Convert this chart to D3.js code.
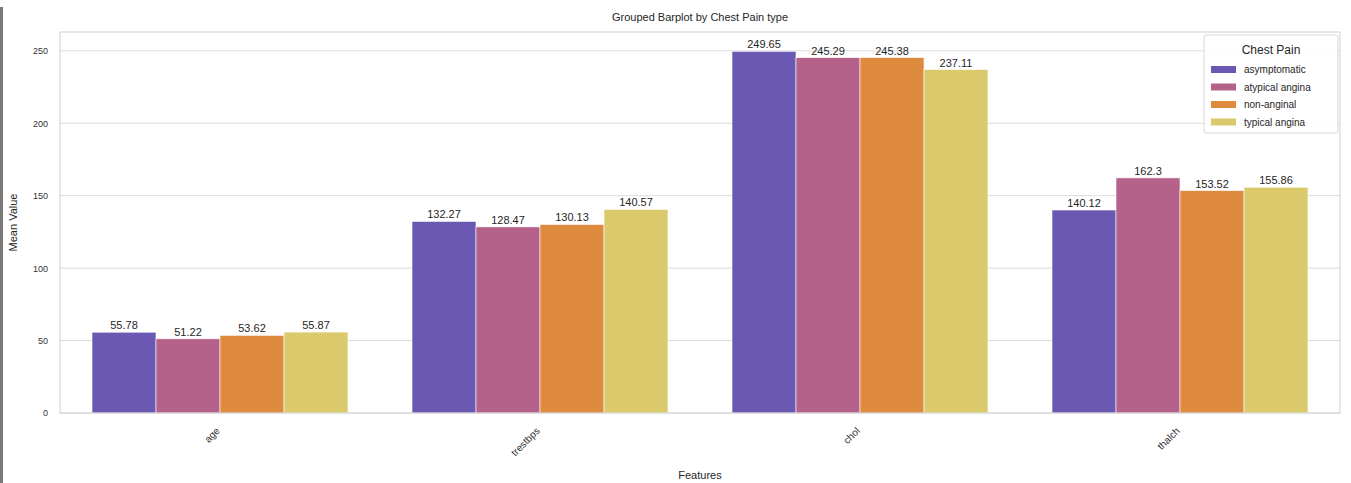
<!DOCTYPE html>
<html>
<head>
<meta charset="utf-8">
<script src="https://cdn.jsdelivr.net/npm/d3@7"></script>
<style>
  body { margin: 0; background: #fff; }
  svg { display: block; font-family: "Liberation Sans", Arial, sans-serif; }
</style>
</head>
<body>
<svg id="chart" width="1351" height="483"></svg>
<script>
const features = ["age", "trestbps", "chol", "thalch"];
const chestPainTypes = ["asymptomatic", "atypical angina", "non-anginal", "typical angina"];
const asymptomatic = [55.78, 132.27, 249.65, 140.12];
const atypicalAngina = [51.22, 128.47, 245.29, 162.3];
const nonAnginal = [53.62, 130.13, 245.38, 153.52];
const typicalAngina = [55.87, 140.57, 237.11, 155.86];
const seriesValues = [asymptomatic, atypicalAngina, nonAnginal, typicalAngina];
const yTicks = [0, 50, 100, 150, 200, 250];
const colors = ["#6a58b2", "#b5628a", "#df8b3e", "#dbca6b"];

const svg = d3.select("#chart");
const W = 1351, H = 483;
const margin = { left: 60, right: 11, top: 32, bottom: 70 };
const plotL = margin.left, plotR = W - margin.right, plotT = margin.top, plotB = H - margin.bottom;

// left gray strip
svg.append("rect").attr("x", 0).attr("y", 7).attr("width", 3).attr("height", H - 7).attr("fill", "#7a7a7a");

const x0 = d3.scaleBand().domain(features).range([plotL, plotR]).paddingInner(0).paddingOuter(0);
const x1 = d3.scaleBand().domain(chestPainTypes).range([0, x0.bandwidth() * 0.8]);
const y = d3.scaleLinear().domain([0, 263]).range([plotB, plotT]);

// grid
svg.append("g").selectAll("line").data(yTicks).join("line")
  .attr("x1", plotL).attr("x2", plotR)
  .attr("y1", d => y(d)).attr("y2", d => y(d))
  .attr("stroke", "#dcdcdc").attr("stroke-width", 1);

// y axis labels
const yAxis = d3.axisLeft(y).tickValues(yTicks).tickSize(0).tickPadding(12);
const gy = svg.append("g").attr("transform", `translate(${plotL},0)`).call(yAxis);
gy.select(".domain").remove();
gy.selectAll("text").attr("font-size", 9).attr("fill", "#333").attr("font-family", "Liberation Sans, Arial, sans-serif");

// bars
const groups = svg.append("g").selectAll("g").data(features).join("g")
  .attr("transform", f => `translate(${x0(f) + x0.bandwidth() * 0.1},0)`);

groups.each(function(f, fi) {
  const g = d3.select(this);
  chestPainTypes.forEach((c, ci) => {
    const v = seriesValues[ci][fi];
    g.append("rect")
      .attr("x", x1(c)).attr("width", x1.bandwidth())
      .attr("y", y(v)).attr("height", y(0) - y(v))
      .attr("fill", colors[ci]).attr("stroke", "#fff").attr("stroke-width", 0.6);
    g.append("text")
      .attr("x", x1(c) + x1.bandwidth() / 2).attr("y", y(v) - 3)
      .attr("text-anchor", "middle").attr("font-size", 11).attr("fill", "#262626")
      .text(String(v));
  });
});

// frame
svg.append("rect").attr("x", plotL).attr("y", plotT).attr("width", plotR - plotL).attr("height", plotB - plotT)
  .attr("fill", "none").attr("stroke", "#d0d0d0").attr("stroke-width", 1);

// x axis labels
const xAxis = d3.axisBottom(x0).tickSize(0).tickPadding(0);
const gx = svg.append("g").attr("transform", `translate(0,${plotB})`).call(xAxis);
gx.select(".domain").remove();
gx.selectAll("text")
  .attr("font-size", 10).attr("fill", "#333").attr("font-family", "Liberation Sans, Arial, sans-serif")
  .attr("text-anchor", "end")
  .attr("x", 0).attr("y", 0).attr("dy", "0.35em")
  .attr("transform", "translate(-2,16) rotate(-45)");

// titles
svg.append("text").attr("x", (plotL + plotR) / 2).attr("y", 21).attr("text-anchor", "middle")
  .attr("font-size", 11).attr("fill", "#262626").text("Grouped Barplot by Chest Pain type");
svg.append("text").attr("x", (plotL + plotR) / 2).attr("y", 479).attr("text-anchor", "middle")
  .attr("font-size", 11).attr("fill", "#262626").text("Features");
svg.append("text").attr("transform", `translate(17,${(plotT + plotB) / 2}) rotate(-90)`).attr("text-anchor", "middle")
  .attr("font-size", 11).attr("fill", "#262626").text("Mean Value");

// legend
const lg = svg.append("g").attr("transform", "translate(1204,35)");
lg.append("rect").attr("x", 0).attr("y", 0).attr("width", 134).attr("height", 98)
  .attr("fill", "#fff").attr("fill-opacity", 0.85).attr("stroke", "#d8d8d8").attr("rx", 2);
lg.append("text").attr("x", 67).attr("y", 19).attr("text-anchor", "middle")
  .attr("font-size", 12).attr("fill", "#262626").text("Chest Pain");
chestPainTypes.forEach((c, i) => {
  const yy = 34 + i * 17.5;
  lg.append("rect").attr("x", 7).attr("y", yy - 3).attr("width", 25).attr("height", 7).attr("fill", colors[i]);
  lg.append("text").attr("x", 40).attr("y", yy + 4).attr("font-size", 10).attr("fill", "#262626").text(c);
});
</script>
</body>
</html>
